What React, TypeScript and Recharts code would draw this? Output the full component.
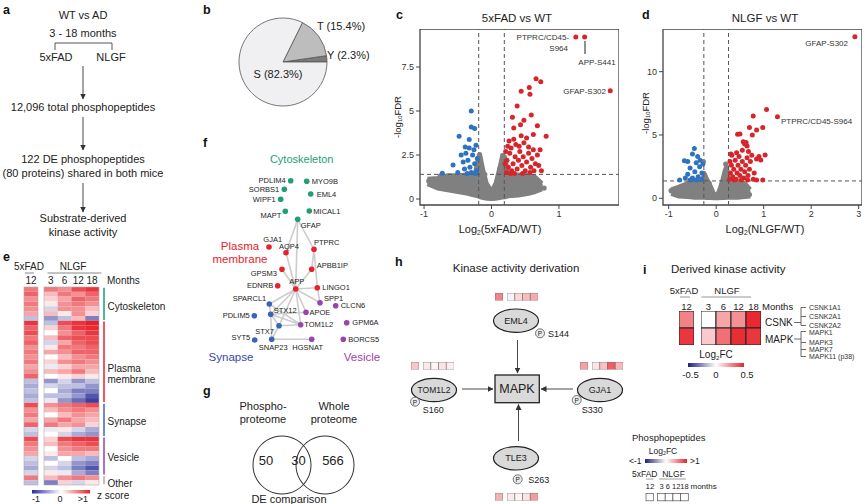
import React from 'react'
import {
  ComposedChart, ScatterChart, Scatter, Area, XAxis, YAxis, ReferenceLine, ReferenceArea,
  BarChart, Bar, Cell, PieChart, Pie,
} from 'recharts'

const FONT = '"Liberation Sans", Arial, Helvetica, sans-serif'

// b: phosphosite residues
const siteNames = ['Y', 'T', 'S']
const sitePct = [2.3, 15.4, 82.3]
const siteColors = ['#7b7b7b', '#bdbdbd', '#f0f0f2']

// c: 5xFAD vs WT volcano
const cEnvX = [-0.95, -0.8, -0.65, -0.5, -0.35, -0.25, -0.2, -0.17, -0.12, -0.07, 0, 0.06, 0.12, 0.16, 0.2, 0.25, 0.4, 0.55, 0.65, 0.75]
const cEnvLo = [0.85, 0.6, 0.5, 0.4, 0.3, 0.2, 0.15, 0.1, 0.05, 0.02, 0, 0.02, 0.05, 0.08, 0.1, 0.15, 0.2, 0.3, 0.4, 0.55]
const cEnvHi = [1.15, 1.2, 1.35, 1.35, 1.4, 1.4, 2.3, 2.55, 1.6, 0.9, 0.45, 0.9, 1.8, 2.5, 2.4, 1.4, 1.4, 1.35, 1.25, 0.9]
const cGrey = [[-0.93, 1.03], [-0.76, 1.31], [-0.66, 0.62], [0.72, 0.8], [0.78, 0.62], [0.63, 1.1], [-0.55, 0.9], [-0.42, 1.2], [0.5, 1.2], [-0.18, 2.5], [0.17, 2.45], [-0.1, 1.4], [0.12, 1.7], [-0.05, 0.6], [0.05, 0.6], [0.3, 0.2], [-0.3, 0.3], [0.6, 0.5], [-0.8, 0.9]]
const cBlue = [[-0.73, 1.46], [-0.57, 1.93], [-0.48, 3.56], [-0.3, 5.0], [-0.3, 4.09], [-0.25, 4.0], [-0.33, 3.38], [-0.23, 3.06], [-0.38, 2.6], [-0.35, 2.2], [-0.32, 1.8], [-0.28, 2.5], [-0.25, 2.0], [-0.22, 1.6], [-0.4, 1.7], [-0.42, 2.1], [-0.36, 1.45], [-0.3, 1.5], [-0.26, 2.8], [-0.21, 2.3], [-0.45, 2.5], [-0.33, 2.9], [-0.24, 1.45], [-0.39, 2.95], [-0.5, 1.5]]
const cRed = [[1.25, 9.2], [1.38, 9.2], [1.76, 6.15], [0.66, 6.83], [0.73, 6.66], [0.44, 6.12], [0.56, 6.34], [0.57, 5.95], [0.38, 5.29], [0.59, 4.77], [0.31, 4.65], [0.48, 4.47], [0.43, 4.22], [0.68, 4.16], [0.81, 3.56], [0.62, 3.66], [0.52, 3.47], [0.33, 4.03], [0.74, 1.6], [0.72, 2.8],
  [0.22, 1.5], [0.25, 1.8], [0.23, 2.2], [0.27, 2.6], [0.3, 1.6], [0.32, 2.0], [0.35, 2.4], [0.29, 2.9], [0.38, 1.7], [0.4, 2.2], [0.42, 2.7], [0.36, 3.1], [0.45, 1.9], [0.47, 2.4], [0.5, 1.6], [0.52, 2.1], [0.55, 2.6], [0.58, 1.8], [0.6, 2.3], [0.63, 1.6], [0.65, 2.0], [0.68, 2.5], [0.7, 1.9], [0.26, 3.3], [0.41, 3.0], [0.2, 2.0], [0.21, 2.7], [0.34, 1.45], [0.46, 1.45], [0.28, 1.45], [0.48, 3.2], [0.55, 2.95], [0.62, 2.8], [0.44, 3.6], [0.24, 3.0], [0.33, 3.4], [0.57, 1.5]]

// d: NLGF vs WT volcano
const dEnvX = [-0.95, -0.8, -0.6, -0.45, -0.3, -0.25, -0.2, -0.12, -0.05, 0, 0.05, 0.12, 0.18, 0.22, 0.27, 0.45, 0.6, 0.72]
const dEnvLo = [0.35, 0.15, 0.1, 0.05, 0.05, 0.05, 0.03, 0.02, 0, 0, 0, 0.02, 0.03, 0.05, 0.05, 0.05, 0.1, 0.15]
const dEnvHi = [0.7, 0.9, 1.2, 1.35, 1.4, 2.0, 1.6, 1.0, 0.4, 0.2, 0.5, 1.3, 2.2, 2.6, 1.4, 1.3, 1.2, 0.7]
const dGrey = [[-0.95, 0.6], [-0.85, 0.5], [-0.7, 0.9], [-0.27, 2.9], [0.2, 2.7], [0.7, 0.3], [0.6, 0.9], [-0.5, 1.1], [0.4, 1.2], [-0.15, 1.2], [0.12, 1.1], [0.05, 0.4]]
const dBlue = [[-0.46, 3.94], [-0.67, 2.97], [-0.77, 1.44], [-0.6, 2.9], [-0.39, 3.3], [-0.5, 3.5], [-0.42, 2.8], [-0.55, 2.4], [-0.35, 2.5], [-0.3, 2.0], [-0.45, 2.1], [-0.6, 1.9], [-0.38, 1.7], [-0.5, 1.6], [-0.3, 1.5], [-0.65, 1.6], [-0.28, 2.7], [-0.42, 1.45], [-0.55, 1.45], [-0.34, 3.0]]
const dRed = [[2.92, 12.75], [1.06, 7.02], [1.29, 6.44], [0.78, 6.5], [0.7, 5.6], [0.85, 5.39], [0.98, 5.6], [0.5, 5.07], [0.45, 5.05], [0.76, 5.0], [0.57, 4.47], [0.6, 4.29], [0.65, 4.13], [0.31, 3.5], [1.03, 3.42], [0.94, 3.02], [0.85, 1.44], [0.98, 1.44], [0.78, 1.5],
  [0.28, 1.5], [0.3, 2.0], [0.32, 2.6], [0.35, 1.7], [0.37, 2.3], [0.4, 3.0], [0.42, 1.5], [0.44, 2.0], [0.46, 2.6], [0.48, 3.3], [0.5, 1.8], [0.52, 2.3], [0.55, 2.9], [0.58, 1.6], [0.6, 2.1], [0.62, 2.6], [0.65, 3.2], [0.67, 1.8], [0.7, 2.3], [0.72, 2.9], [0.75, 3.4], [0.8, 2.0], [0.85, 3.1], [0.9, 3.3], [0.33, 3.4], [0.43, 3.6], [0.55, 3.8], [0.63, 4.4], [0.68, 3.7], [0.29, 2.9], [0.38, 1.45], [0.53, 1.45], [0.66, 1.45]]

// e: z-score heatmap, rows grouped
const eGroups = ['Cytoskeleton', 'Plasma membrane', 'Synapse', 'Vesicle', 'Other']
const eGroupRows = [7, 17, 7, 8, 2]
const e5xFAD12 = [0.6, 0.7, 0.5, 0.6, 0.5, 0.4, -0.3,
  0.9, 0.7, 0.8, 0.6, 0.7, 0.5, 0.6, 0.5, 0.6, 0.4, 0.5, 0.7, -0.3, -0.4, -0.3, -0.4, -0.3,
  0.8, 0.5, 0.6, 0.4, 0.7, -0.2, -0.3,
  0.8, 0.6, 0.5, 0.4, -0.2, -0.3, -0.4, -0.2,
  0.6, -0.3]
const eNLGF3 = [0.6, 0.3, 0.2, 0.1, -0.2, 0.3, -0.5,
  -0.3, 0.2, 0.0, 0.3, -0.2, 0.1, 0.4, 0.0, 0.2, -0.1, 0.3, 0.0, -0.5, -0.2, 0.0, -0.3, -0.1,
  0.5, 0.3, 0.0, 0.4, 0.6, -0.1, 0.0,
  0.2, 0.3, 0.0, 0.1, -0.3, 0.0, -0.2, 0.1,
  0.3, -0.6]
const eNLGF6 = [0.5, 0.6, 0.4, 0.5, 0.5, 0.1, -0.3,
  0.8, 0.6, 0.5, 0.7, 0.4, 0.6, 0.5, 0.3, 0.5, 0.2, 0.4, 0.1, -0.2, -0.3, -0.4, -0.3, -0.5,
  0.6, 0.5, 0.3, 0.6, 0.4, 0.1, -0.2,
  0.8, 0.6, 0.5, 0.4, 0.0, -0.2, -0.3, -0.1,
  0.5, 0.2]
const eNLGF12 = [0.8, 0.5, 0.7, 0.6, 0.5, 0.5, 0.3,
  0.9, 0.9, 0.7, 0.8, 0.7, 0.6, 0.7, 0.5, 0.6, 0.4, 0.6, 0.2, -0.5, -0.3, -0.6, -0.5, -0.7,
  0.7, 0.6, 0.5, 0.4, 0.5, -0.2, -0.4,
  0.9, 0.7, 0.6, 0.4, -0.3, -0.5, -0.6, -0.4,
  0.6, -0.2]
const eNLGF18 = [0.9, 0.7, 0.6, 0.5, 0.3, 0.2, -0.6,
  1.0, 0.95, 0.9, 0.8, 0.8, 0.7, 0.7, 0.6, 0.5, 0.4, 0.3, 0.1, -0.3, -0.5, -0.6, -0.8, -0.9,
  0.8, 0.5, 0.4, 0.3, 0.2, -0.4, -0.5,
  0.9, 0.8, 0.6, 0.3, -0.4, -0.6, -0.8, -0.6,
  0.5, 0.1]
const eMonths = ['3', '6', '12', '18']

// f: network
const fNodeNames = ['PDLIM4', 'MYO9B', 'SORBS1', 'EML4', 'WIPF1', 'MAPT', 'MICAL1', 'GFAP',
  'GJA1', 'AQP4', 'PTPRC', 'GPSM3', 'APBB1IP', 'EDNRB', 'APP', 'LINGO1',
  'SPARCL1', 'STX12', 'PDLIM5', 'STX7', 'SYT5', 'SNAP23',
  'SPP1', 'APOE', 'TOM1L2', 'HGSNAT', 'CLCN6', 'GPM6A', 'BORCS5']
const fNodeX = [290.7, 306.7, 284.3, 310.7, 280.7, 285.3, 309.3, 297.7, 269, 286, 314, 282, 311.7, 277.7, 295.7, 317.3, 269.3, 270.7, 254.3, 279, 254.7, 271.7, 320, 306, 300.7, 311.7, 335.7, 346.7, 343.3]
const fNodeY = [180.7, 181.3, 189.3, 194, 199.3, 211.3, 211, 219.3, 247, 252.7, 249.3, 269.3, 269.3, 285.7, 289, 287.7, 304, 314.3, 315.7, 325.7, 340, 339.3, 302.7, 312.3, 324.7, 339.3, 305.7, 322.7, 339.3]
const fNodeGroup = ['cyto', 'cyto', 'cyto', 'cyto', 'cyto', 'cyto', 'cyto', 'cyto',
  'pm', 'pm', 'pm', 'pm', 'pm', 'pm', 'pm', 'pm',
  'syn', 'syn', 'syn', 'syn', 'syn', 'syn',
  'ves', 'ves', 'ves', 'ves', 'ves', 'ves', 'ves']
const fEdges = [['GFAP', 'AQP4'], ['GFAP', 'PTPRC'], ['GFAP', 'APP'], ['AQP4', 'APP'], ['PTPRC', 'APBB1IP'], ['PTPRC', 'LINGO1'], ['APBB1IP', 'APP'], ['GPSM3', 'APP'], ['APP', 'LINGO1'], ['APP', 'SPARCL1'], ['APP', 'STX12'], ['APP', 'APOE'], ['APP', 'TOM1L2'], ['APP', 'SPP1'], ['APP', 'STX7'], ['LINGO1', 'SPP1'], ['SPARCL1', 'STX12'], ['STX12', 'APOE'], ['STX12', 'STX7'], ['STX12', 'SNAP23'], ['STX12', 'TOM1L2'], ['STX7', 'TOM1L2'], ['STX7', 'SNAP23'], ['SNAP23', 'HGSNAT'], ['SPARCL1', 'TOM1L2']]

// g: DE overlap
const vennSets = ['Phospho-|proteome', 'Whole|proteome']
const vennCounts = [50, 30, 566]

// h: phosphopeptides feeding MAPK
const hGenes = ['EML4', 'TOM1L2', 'GJA1', 'TLE3']
const hSites = ['S144', 'S160', 'S330', 'S263']
const h5xFAD = [0.55, 0.25, 0.42, 0.35]
const hNLGF = [[-0.05, 0.18, 0.3, 0.38], [0.1, 0.05, 0.12, 0.08], [0.12, 0.28, 0.72, 0.32], [0.1, 0.05, 0.12, 0.45]]

// i: derived kinase activity (log2FC)
const iKinases = ['CSNK', 'MAPK']
const i5xFAD12 = [0.28, 0.45]
const iNLGF3 = [0.0, 0.12]
const iNLGF6 = [0.2, 0.32]
const iNLGF12 = [0.25, 0.47]
const iNLGF18 = [0.48, 0.45]
const iCsnkMembers = ['CSNK1A1', 'CSNK2A1', 'CSNK2A2']
const iMapkMembers = ['MAPK1', 'MAPK3', 'MAPK7', 'MAPK11 (p38)']

const RED = '#d7262b'
const BLUE = '#2e72c0'
const GREY = '#808080'
const groupColor: Record<string, string> = { cyto: '#1f9e78', pm: '#e8212b', syn: '#3b63b8', ves: '#9b42b0' }
const eGroupColors = ['#1b9e77', '#e8212b', '#3a66b5', '#9a3fb0', '#aaaaaa']

const mix = (a: number, b: number, t: number) => Math.round(a + (b - a) * t)
function diverge(v: number, max: number, neg: number[], pos: number[]) {
  const t = Math.max(-1, Math.min(1, v / max))
  const c = t < 0 ? neg : pos
  const a = Math.abs(t)
  return `rgb(${mix(255, c[0], a)},${mix(255, c[1], a)},${mix(255, c[2], a)})`
}
const zColor = (v: number) => diverge(v, 1, [40, 42, 150], [230, 32, 40])
const fcColor = (v: number) => diverge(v, 0.5, [25, 25, 120], [232, 32, 40])
const pColor = (v: number) => diverge(v, 1, [25, 25, 120], [232, 32, 40])

const pts = (a: number[][]) => a.map(([x, y]) => ({ x, y }))
const env = (xs: number[], lo: number[], hi: number[]) => xs.map((x, i) => ({ x, band: [lo[i], hi[i]] }))
const dot = (r: number, fill: string) => (p: any) => <circle cx={p.cx} cy={p.cy} r={r} fill={fill} />

function Volcano(props: any) {
  const { left, top, w, h, xDomain, yDomain, xTicks, yTicks, fc, fdr, band, grey, red, blue } = props
  const yW = 26
  const xH = 20
  const tick = { fontSize: 9, fill: '#333', fontFamily: FONT }
  return (
    <div style={{ position: 'absolute', left: left - yW, top }}>
      <ComposedChart width={w + yW} height={h + xH} data={band} margin={{ top: 0, right: 0, bottom: 0, left: 0 }}>
        <XAxis type="number" dataKey="x" domain={xDomain} ticks={xTicks} allowDataOverflow scale="linear"
          height={xH} tickSize={4} axisLine={false} tickLine={{ stroke: '#444' }} tick={tick} interval={0} />
        <YAxis type="number" domain={yDomain} ticks={yTicks} allowDataOverflow scale="linear"
          width={yW} tickSize={4} axisLine={false} tickLine={{ stroke: '#444' }} tick={tick} interval={0} />
        <Area dataKey="band" type="linear" stroke={GREY} strokeWidth={4} strokeLinejoin="round" fill={GREY} fillOpacity={1}
          dot={false} activeDot={false} isAnimationActive={false} />
        <Scatter data={grey} dataKey="y" shape={dot(2.6, GREY)} isAnimationActive={false} />
        <Scatter data={blue} dataKey="y" shape={dot(2.5, BLUE)} isAnimationActive={false} />
        <Scatter data={red} dataKey="y" shape={dot(2.5, RED)} isAnimationActive={false} />
        <ReferenceLine x={-fc} stroke="#555" strokeDasharray="4 3" />
        <ReferenceLine x={fc} stroke="#555" strokeDasharray="4 3" />
        <ReferenceLine y={fdr} stroke="#555" strokeDasharray="4 3" />
        <ReferenceArea x1={xDomain[0]} x2={xDomain[1]} y1={yDomain[0]} y2={yDomain[1]} fill="none" stroke="#444"
          strokeWidth={1.3} ifOverflow="visible" />
      </ComposedChart>
    </div>
  )
}

// columns x rows of values, each drawn as one stacked cell
function Heat(props: any) {
  const { left, top, w, h, values, color, stroke = 'none', strokeWidth = 0 } = props
  const nRows = values[0].length
  const data = values.map((col: number[], ci: number) => {
    const o: any = { c: ci }
    col.forEach((_, ri) => { o['r' + ri] = 1 })
    return o
  })
  return (
    <div style={{ position: 'absolute', left, top }}>
      <BarChart width={w} height={h} data={data} margin={{ top: 0, right: 0, bottom: 0, left: 0 }} barCategoryGap={0} barGap={0}>
        <XAxis dataKey="c" hide />
        <YAxis type="number" hide domain={[0, nRows]} reversed allowDataOverflow scale="linear" />
        {values[0].map((_: number, ri: number) => (
          <Bar key={ri} dataKey={'r' + ri} stackId="s" isAnimationActive={false}>
            {values.map((col: number[], ci: number) => (
              <Cell key={ci} fill={color(col[ri])} stroke={stroke} strokeWidth={strokeWidth} />
            ))}
          </Bar>
        ))}
      </BarChart>
    </div>
  )
}

const fLabelPos: Record<string, [number, number, string]> = {
  PDLIM4: [-5, 0, 'end'], MYO9B: [5, 0, 'start'], SORBS1: [-5, 0, 'end'], EML4: [6, 0, 'start'],
  WIPF1: [-5, 0, 'end'], MAPT: [-4, 4, 'end'], MICAL1: [4, 0, 'start'], GFAP: [3, 6, 'start'],
  GJA1: [3.7, -7.7, 'middle'], AQP4: [3, -6.5, 'middle'], PTPRC: [0, -6.6, 'start'], GPSM3: [-5, 4.5, 'end'],
  APBB1IP: [5, -4.3, 'start'], EDNRB: [-4.5, 0, 'end'], APP: [1, -7.3, 'middle'], LINGO1: [5, 0, 'start'],
  SPARCL1: [-3, -5.7, 'end'], STX12: [3, -4, 'start'], PDLIM5: [-4.5, 0, 'end'], STX7: [-5, 5.3, 'end'],
  SYT5: [-4.5, -2.3, 'end'], SNAP23: [1.5, 8, 'middle'], SPP1: [4, -4.7, 'start'], APOE: [3.5, 0, 'start'],
  TOM1L2: [3.5, 0, 'start'], HGSNAT: [-4, 8, 'middle'], CLCN6: [5, 0, 'start'], GPM6A: [5.6, 0, 'start'],
  BORCS5: [5, 0, 'start'],
}

function Network() {
  const nodes = fNodeNames.map((name, i) => ({ name, x: fNodeX[i], y: fNodeY[i], g: fNodeGroup[i] }))
  const at = (n: string) => nodes.find((d) => d.name === n)!
  const shape = (p: any) => {
    const d = p.payload
    const [dx, dy, anchor] = fLabelPos[d.name]
    return (
      <g>
        <circle cx={p.cx} cy={p.cy} r={2.8} fill={groupColor[d.g]} />
        <text x={p.cx + dx} y={p.cy + dy} fontSize={7.5} textAnchor={anchor as any} dominantBaseline="central" fill="#222">{d.name}</text>
      </g>
    )
  }
  return (
    <div style={{ position: 'absolute', left: 215, top: 150 }}>
      <ScatterChart width={170} height={210} margin={{ top: 0, right: 0, bottom: 0, left: 0 }}>
        <XAxis type="number" dataKey="x" domain={[215, 385]} hide allowDataOverflow scale="linear" />
        <YAxis type="number" dataKey="y" domain={[150, 360]} hide reversed allowDataOverflow scale="linear" />
        {fEdges.map(([a, b], i) => (
          <ReferenceLine key={i} segment={[{ x: at(a).x, y: at(a).y }, { x: at(b).x, y: at(b).y }]}
            stroke="#cdcdcd" strokeWidth={1.6} ifOverflow="visible" />
        ))}
        <Scatter data={nodes} shape={shape} isAnimationActive={false} />
      </ScatterChart>
    </div>
  )
}

function T(props: any) {
  const { x, y, s = 11, a = 'middle', c = '#222', w, children, ...rest } = props
  return <text x={x} y={y} fontSize={s} textAnchor={a} fill={c} fontWeight={w} dominantBaseline="central" {...rest}>{children}</text>
}

function Sub(props: any) {
  const { x, y, s = 11, pre, sub, post, rotate } = props
  return (
    <text fontSize={s} textAnchor="middle" fill="#222" dominantBaseline="central"
      transform={`translate(${x},${y})${rotate ? ' rotate(-90)' : ''}`}>
      {pre}<tspan fontSize={s * 0.62} dy={s * 0.3}>{sub}</tspan><tspan dy={-s * 0.3}>{post}</tspan>
    </text>
  )
}

export default function App() {
  const pitch = 198 / e5xFAD12.length
  let acc = 0
  const groupSpans = eGroupRows.map((n) => { const s = acc; acc += n; return [s, acc] })
  const siteData = siteNames.map((name, i) => ({ name, pct: sitePct[i] }))
  const hPos = [
    { sq: [495, 293], el: [516, 320.7], p: [540, 333.3], s: [548, 333.5] },
    { sq: [411, 362], el: [434, 390], p: [415, 401.7], s: [422.7, 410] },
    { sq: [580, 362], el: [600, 390], p: [576.7, 400], s: [581.7, 410] },
    { sq: [495, 493], el: [516, 458.3], p: [517.7, 479.3], s: [528.3, 480] },
  ]
  return (
    <div style={{ position: 'absolute', left: 0, top: 0, width: 865, height: 504, background: '#fff', fontFamily: FONT, overflow: 'hidden' }}>
      {/* b pie */}
      <div style={{ position: 'absolute', left: 228, top: 7 }}>
        <PieChart width={100} height={100}>
          <Pie data={siteData} dataKey="pct" nameKey="name" cx={50} cy={50} outerRadius={44} startAngle={0} endAngle={360}
            stroke="#555" strokeWidth={0.8} isAnimationActive={false}>
            {siteData.map((_, i) => <Cell key={i} fill={siteColors[i]} />)}
          </Pie>
        </PieChart>
      </div>

      {/* c, d volcanoes */}
      <Volcano left={420} top={29} w={199} h={176} xDomain={[-1.06, 1.89]} yDomain={[-0.34, 9.66]}
        xTicks={[-1, 0, 1]} yTicks={[0, 2.5, 5, 7.5]} fc={0.19} fdr={1.4}
        band={env(cEnvX, cEnvLo, cEnvHi)} grey={pts(cGrey)} red={pts(cRed)} blue={pts(cBlue)} />
      <Volcano left={663} top={29} w={199} h={176} xDomain={[-1.12, 3.07]} yDomain={[-0.53, 13.37]}
        xTicks={[-1, 0, 1, 2, 3]} yTicks={[0, 5, 10]} fc={0.26} fdr={1.37}
        band={env(dEnvX, dEnvLo, dEnvHi)} grey={pts(dGrey)} red={pts(dRed)} blue={pts(dBlue)} />

      {/* e heatmap */}
      <Heat left={24} top={287} w={14} h={198} values={[e5xFAD12]} color={zColor} />
      <Heat left={44} top={287} w={55} h={198} values={[eNLGF3, eNLGF6, eNLGF12, eNLGF18]} color={zColor} />

      {/* f network */}
      <Network />

      {/* g venn: two rings */}
      <div style={{ position: 'absolute', left: 240, top: 423 }}>
        <PieChart width={130} height={76}>
          <Pie data={[{ v: 1 }]} dataKey="v" cx={37} cy={37} innerRadius={28.5} outerRadius={29.5} fill="#333" stroke="none" isAnimationActive={false} />
          <Pie data={[{ v: 1 }]} dataKey="v" cx={80} cy={37} innerRadius={28.5} outerRadius={29.5} fill="#333" stroke="none" isAnimationActive={false} />
        </PieChart>
      </div>

      {/* h squares */}
      {hGenes.map((g, i) => (
        <React.Fragment key={g}>
          <Heat left={hPos[i].sq[0]} top={hPos[i].sq[1]} w={8} h={7.5} values={[[h5xFAD[i]]]} color={pColor} stroke="#666" strokeWidth={0.6} />
          <Heat left={hPos[i].sq[0] + 12} top={hPos[i].sq[1]} w={31} h={7.5} values={hNLGF[i].map((v) => [v])} color={pColor} stroke="#666" strokeWidth={0.6} />
        </React.Fragment>
      ))}

      {/* i heatmap */}
      <Heat left={679} top={311} w={15} h={34} values={[i5xFAD12]} color={fcColor} stroke="#222" strokeWidth={1} />
      <Heat left={701} top={311} w={60} h={34} values={[iNLGF3, iNLGF6, iNLGF12, iNLGF18]} color={fcColor} stroke="#222" strokeWidth={1} />

      <svg width={865} height={504} style={{ position: 'absolute', left: 0, top: 0, pointerEvents: 'none' }} fontFamily={FONT}>
        <defs>
          <marker id="ah" markerWidth={6} markerHeight={6} refX={5.5} refY={3} orient="auto" markerUnits="userSpaceOnUse">
            <path d="M0,0 L6,3 L0,6 z" fill="#333" />
          </marker>
          <linearGradient id="gz" x1="0" x2="1" y1="0" y2="0">
            <stop offset="0" stopColor="#2b2d9a" /><stop offset="0.5" stopColor="#ffffff" /><stop offset="1" stopColor="#e8232a" />
          </linearGradient>
          <linearGradient id="gf" x1="0" x2="1" y1="0" y2="0">
            <stop offset="0" stopColor="#1e2080" /><stop offset="0.5" stopColor="#ffffff" /><stop offset="1" stopColor="#e8232a" />
          </linearGradient>
        </defs>

        {/* panel letters */}
        {[['a', 3, 10], ['b', 203, 10], ['c', 396, 15], ['d', 642, 15], ['e', 3, 257], ['f', 203, 143], ['g', 203, 391], ['h', 395, 262], ['i', 643, 270]].map(([l, x, y]) => (
          <T key={l as string} x={x} y={y} s={12.5} a="start" w="bold" c="#111">{l}</T>
        ))}

        {/* a flow */}
        <T x={83} y={15}>WT vs AD</T>
        <T x={83} y={33}>3 - 18 months</T>
        <path d="M55,50 L55,43 L112,43 L112,50" fill="none" stroke="#444" strokeWidth={0.9} />
        <T x={56} y={57}>5xFAD</T>
        <T x={111} y={57}>NLGF</T>
        <line x1={83} y1={66} x2={83} y2={99} stroke="#333" strokeWidth={0.9} markerEnd="url(#ah)" />
        <T x={83} y={107}>12,096 total phosphopeptides</T>
        <line x1={83} y1={117} x2={83} y2={150} stroke="#333" strokeWidth={0.9} markerEnd="url(#ah)" />
        <T x={83} y={159}>122 DE phosphopeptides</T>
        <T x={83} y={173}>(80 proteins) shared in both mice</T>
        <line x1={83} y1={183} x2={83} y2={212} stroke="#333" strokeWidth={0.9} markerEnd="url(#ah)" />
        <T x={83} y={218}>Substrate-derived</T>
        <T x={83} y={232}>kinase activity</T>

        {/* b labels */}
        <T x={317} y={26} a="start">{`${siteNames[1]} (${sitePct[1]}%)`}</T>
        <T x={327} y={55} a="start">{`${siteNames[0]} (${sitePct[0]}%)`}</T>
        <T x={278} y={74}>{`${siteNames[2]} (${sitePct[2]}%)`}</T>

        {/* c labels */}
        <T x={517} y={18} s={11.5}>5xFAD vs WT</T>
        <Sub x={500} y={229} pre="Log" sub="2" post="(5xFAD/WT)" />
        <Sub x={397} y={117} s={9.5} pre="-log" sub="10" post="FDR" rotate />
        <T x={569} y={37} s={8} a="end" c="#333">PTPRC/CD45-</T>
        <T x={568} y={48} s={8} a="end" c="#333">S964</T>
        <line x1={585} y1={41} x2={585} y2={54} stroke="#222" strokeWidth={1} />
        <T x={597} y={62} s={8} c="#333">APP-S441</T>
        <T x={606} y={91} s={8} a="end" c="#333">GFAP-S302</T>

        {/* d labels */}
        <T x={765} y={18} s={11.5}>NLGF vs WT</T>
        <Sub x={765} y={229} pre="Log" sub="2" post="(NLGF/WT)" />
        <Sub x={645} y={113} s={9.5} pre="-log" sub="10" post="FDR" rotate />
        <T x={848} y={43} s={8} a="end" c="#333">GFAP-S302</T>
        <T x={781} y={121} s={8} a="start" c="#333">PTPRC/CD45-S964</T>

        {/* e labels */}
        <T x={29} y={266.5} s={10}>5xFAD</T>
        <line x1={25} y1={273} x2={34} y2={273} stroke="#888" strokeWidth={1} />
        <T x={73} y={266.5} s={10}>NLGF</T>
        <line x1={47.5} y1={273} x2={101.5} y2={273} stroke="#888" strokeWidth={1} />
        <T x={31} y={280} s={10}>12</T>
        {eMonths.map((m, i) => <T key={m} x={44 + 55 / 4 * (i + 0.5)} y={280} s={10}>{m}</T>)}
        <T x={107} y={280} s={10} a="start">Months</T>
        <rect x={24} y={287} width={14} height={198} fill="none" stroke="#aaa" strokeWidth={0.6} />
        <rect x={44} y={287} width={55} height={198} fill="none" stroke="#aaa" strokeWidth={0.6} />
        {groupSpans.map(([s, e], i) => (
          <line key={i} x1={104} x2={104} y1={287 + s * pitch + 0.8} y2={287 + e * pitch - 0.8} stroke={eGroupColors[i]} strokeWidth={1.5} />
        ))}
        <T x={107.5} y={306} s={10} a="start">{eGroups[0]}</T>
        <T x={107.5} y={368} s={10} a="start">Plasma</T>
        <T x={107.5} y={379.5} s={10} a="start">membrane</T>
        <T x={107.5} y={421.5} s={10} a="start">{eGroups[2]}</T>
        <T x={107.5} y={457} s={10} a="start">{eGroups[3]}</T>
        <T x={107.5} y={483} s={10} a="start">{eGroups[4]}</T>
        <rect x={32} y={490} width={58} height={3.5} fill="url(#gz)" />
        <T x={36} y={499} s={9}>-1</T>
        <T x={60} y={499} s={9}>0</T>
        <T x={83} y={499} s={9}>&gt;1</T>
        <T x={97} y={495} s={10} a="start">z score</T>

        {/* f group titles */}
        <T x={301.7} y={159.3} s={11} c="#1f9e78">Cytoskeleton</T>
        <T x={240} y={246} s={11.5} c="#e8212b">Plasma</T>
        <T x={240} y={259.3} s={11.5} c="#e8212b">membrane</T>
        <T x={231} y={357} s={11.5} c="#3a46a8">Synapse</T>
        <T x={362} y={356.7} s={11.5} c="#9b42b0">Vesicle</T>

        {/* g venn text */}
        {vennSets.map((s, i) => (
          <React.Fragment key={s}>
            <T x={i === 0 ? 263 : 334} y={406}>{s.split('|')[0]}</T>
            <T x={i === 0 ? 263 : 334} y={419}>{s.split('|')[1]}</T>
          </React.Fragment>
        ))}
        <T x={266} y={460} s={13}>{vennCounts[0]}</T>
        <T x={298.5} y={460} s={13}>{vennCounts[1]}</T>
        <T x={333} y={460} s={13}>{vennCounts[2]}</T>
        <T x={289} y={498.5}>DE comparison</T>

        {/* h diagram */}
        <T x={516} y={268} s={11.5}>Kinase activity derivation</T>
        <rect x={495} y={375} width={44.3} height={27.7} fill="#d9d9d9" stroke="#222" strokeWidth={1.3} />
        <T x={517} y={389} s={12.5}>MAPK</T>
        {hGenes.map((g, i) => (
          <g key={g}>
            <ellipse cx={hPos[i].el[0]} cy={hPos[i].el[1]} rx={22.5} ry={11.7} fill="#d9d9d9" stroke="#222" strokeWidth={1.2} />
            <T x={hPos[i].el[0]} y={hPos[i].el[1]} s={g.length > 4 ? 8.5 : 9}>{g}</T>
            <circle cx={hPos[i].p[0]} cy={hPos[i].p[1]} r={4.5} fill="#ececec" stroke="#555" strokeWidth={0.8} />
            <T x={hPos[i].p[0]} y={hPos[i].p[1] + 0.3} s={6.5}>P</T>
            <T x={hPos[i].s[0]} y={hPos[i].s[1]} s={9} a="start">{hSites[i]}</T>
          </g>
        ))}
        <line x1={517.5} y1={340} x2={517.5} y2={373} stroke="#333" strokeWidth={0.9} markerEnd="url(#ah)" />
        <line x1={462} y1={389} x2={493} y2={389} stroke="#333" strokeWidth={0.9} markerEnd="url(#ah)" />
        <line x1={573} y1={389} x2={541} y2={389} stroke="#333" strokeWidth={0.9} markerEnd="url(#ah)" />
        <line x1={518.5} y1={441} x2={518.5} y2={404.5} stroke="#333" strokeWidth={0.9} markerEnd="url(#ah)" />

        {/* phosphopeptide legend */}
        <T x={632} y={437.5} s={9.5} a="start">Phosphopeptides</T>
        <Sub x={663} y={450.5} s={8.5} pre="Log" sub="2" post="FC" />
        <T x={629} y={461} s={8.5} a="start">&lt;-1</T>
        <rect x={645} y={459} width={42} height={4} fill="url(#gf)" />
        <T x={690} y={461} s={8.5} a="start">&gt;1</T>
        <T x={632} y={473.5} s={8.5} a="start">5xFAD</T>
        <T x={673.5} y={473.5} s={8.5}>NLGF</T>
        <line x1={646} y1={479} x2={653.5} y2={479} stroke="#888" strokeWidth={0.8} />
        <line x1={659} y1={479} x2={686} y2={479} stroke="#888" strokeWidth={0.8} />
        <T x={650} y={486} s={8}>12</T>
        <T x={659.5} y={486} s={7.5} a="start">3 6 1218</T>
        <T x={690.5} y={486} s={8} a="start">months</T>
        <rect x={646} y={493.5} width={7.3} height={7.3} fill="#fff" stroke="#555" strokeWidth={0.7} />
        {[0, 1, 2, 3].map((k) => (
          <rect key={k} x={657.5 + k * 7.7} y={493.5} width={7.7} height={7.3} fill="#fff" stroke="#555" strokeWidth={0.7} />
        ))}

        {/* i labels */}
        <T x={671} y={268.5} s={11.5} a="start">Derived kinase activity</T>
        <T x={684} y={290} s={9.5}>5xFAD</T>
        <line x1={680} y1={297} x2={690} y2={297} stroke="#888" strokeWidth={0.9} />
        <T x={727} y={290} s={9.5}>NLGF</T>
        <line x1={701.5} y1={297} x2={751} y2={297} stroke="#888" strokeWidth={0.9} />
        <T x={686.5} y={306.5} s={9.5}>12</T>
        {eMonths.map((m, i) => <T key={m} x={701 + 15 * (i + 0.5)} y={306.5} s={9.5}>{m}</T>)}
        <T x={762} y={306.5} s={9.5} a="start">Months</T>
        <T x={765} y={322.5} s={10} a="start">{iKinases[0]}</T>
        <T x={765} y={339} s={10} a="start">{iKinases[1]}</T>
        <path d="M794,322.5 L801,322.5 M801,307.5 L801,325.5 M801,307.5 L806,307.5 M801,316.5 L806,316.5 M801,325.5 L806,325.5"
          fill="none" stroke="#444" strokeWidth={0.8} />
        {iCsnkMembers.map((m, k) => <T key={m} x={809} y={307.5 + k * 9} s={7} a="start" c="#333">{m}</T>)}
        <path d="M794,339 L801,339 M801,331.5 L801,356.5 M801,331.5 L806,331.5 M801,342.5 L806,342.5 M801,349.5 L806,349.5 M801,356.5 L806,356.5"
          fill="none" stroke="#444" strokeWidth={0.8} />
        {iMapkMembers.map((m, k) => <T key={m} x={809} y={[332, 342.5, 349.5, 356.5][k]} s={7} a="start" c="#333">{m}</T>)}
        <Sub x={716} y={354} s={10} pre="Log" sub="2" post="FC" />
        <rect x={688} y={363} width={56} height={4} fill="url(#gf)" />
        <T x={690.5} y={374.5} s={9.5}>-0.5</T>
        <T x={716} y={374.5} s={9.5}>0</T>
        <T x={747} y={374.5} s={9.5}>0.5</T>
      </svg>
    </div>
  )
}
